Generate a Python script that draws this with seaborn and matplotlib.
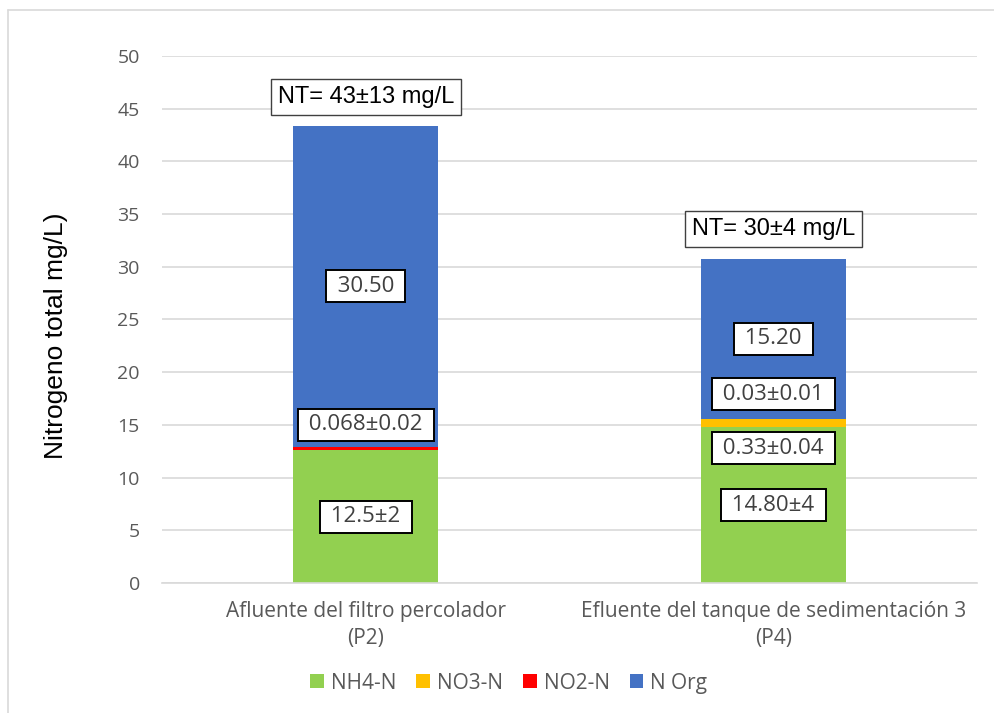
import pandas as pd
import matplotlib
matplotlib.use("Agg")
import matplotlib.pyplot as plt
from matplotlib.patches import Patch
from matplotlib.lines import Line2D
import seaborn as sns

# ── DATA ───────────────────────────────────────────────
categories = ["Afluente del filtro percolador\n(P2)",
              "Efluente del tanque de sedimentación 3\n(P4)"]
series = ["NH4-N", "NO3-N", "NO2-N", "N Org"]
nh4 = [12.6, 14.8]
no3 = [0.0, 0.75]
no2 = [0.3, 0.03]
norg = [30.5, 15.2]
colors = ["#92D050", "#FFC000", "#FF0000", "#4472C4"]

# data labels: (bar index, text, y position or None -> segment centre, segment)
seg_labels = [
    (0, "12.5±2", None, "nh4"),
    (0, "0.068±0.02", 15.0, None),
    (0, "30.50", None, "norg"),
    (1, "14.80±4", None, "nh4"),
    (1, "0.33±0.04", 12.8, None),
    (1, "0.03±0.01", 17.9, None),
    (1, "15.20", None, "norg"),
]
nt_labels = ["NT= 43±13 mg/L", "NT= 30±4 mg/L"]
nt_y = [46.1, 33.6]

df = pd.DataFrame({"cat": categories, "NH4-N": nh4, "NO3-N": no3,
                   "NO2-N": no2, "N Org": norg})
cum = df[series].cumsum(axis=1)

# ── PLOT ───────────────────────────────────────────────
sns.set_style("white")
plt.rcParams["font.family"] = ["Open Sans", "DejaVu Sans"]

fig = plt.figure(figsize=(9.94, 7.13), dpi=100)
ax = fig.add_axes([0.163, 0.1823, 0.820, 0.7392])

# stacked bars: draw cumulative totals back to front
for s, c in reversed(list(zip(series, colors))):
    sns.barplot(x=df["cat"], y=cum[s], color=c, width=0.356,
                saturation=1, linewidth=0, ax=ax, zorder=2)

ax.set_ylim(0, 50)
ax.set_xlim(-0.5, 1.5)
ax.set_yticks(range(0, 51, 5))
ax.yaxis.grid(True, color="#d9d9d9", linewidth=1.2, zorder=0)
ax.set_axisbelow(True)
for sp in ["top", "right", "left"]:
    ax.spines[sp].set_visible(False)
ax.spines["bottom"].set_color("#d9d9d9")
ax.spines["bottom"].set_linewidth(1.2)
ax.tick_params(axis="y", length=0, pad=16, labelsize=14, labelcolor="#595959")
ax.tick_params(axis="x", length=0, pad=13, labelsize=15, labelcolor="#595959")
for lab in ax.get_xticklabels():
    lab.set_linespacing(1.4)
ax.set_xlabel("")
ax.set_ylabel("Nitrogeno total mg/L)", family="Liberation Sans", fontsize=19,
              color="black")
ax.yaxis.set_label_coords(-0.115, 0.469)

box = dict(boxstyle="square,pad=0.25", facecolor="white", edgecolor="black",
           linewidth=1.4)
for i, txt, ypos, seg in seg_labels:
    if ypos is None:
        if seg == "nh4":
            ypos = nh4[i] / 2
        else:
            ypos = cum.loc[i, "NO2-N"] + norg[i] / 2
    ax.text(i, ypos, " " + txt + " ", ha="center", va="center", fontsize=16,
            color="#404040", bbox=box, zorder=5)

for i, txt in enumerate(nt_labels):
    ax.text(i, nt_y[i], txt, ha="center", va="center", fontsize=17,
            family="Liberation Sans", color="black",
            bbox=dict(boxstyle="square,pad=0.3", facecolor="white",
                      edgecolor="#404040", linewidth=1), zorder=5)

handles = [Patch(facecolor=c, edgecolor="none", label=s)
           for s, c in zip(series, colors)]
fig.legend(handles=handles, loc="center", bbox_to_anchor=(0.512, 0.042),
           ncol=4, frameon=False, fontsize=15, handlelength=0.65,
           handleheight=0.65, handletextpad=0.35, columnspacing=0.95,
           labelcolor="#595959")

# outer chart border (only top and left are visible in the crop)
fig.add_artist(Line2D([8 / 994, 1], [1 - 10 / 713] * 2, color="#d9d9d9", lw=1.2))
fig.add_artist(Line2D([8 / 994] * 2, [0, 1 - 10 / 713], color="#d9d9d9", lw=1.2))

fig.savefig("out.png", dpi=100)
